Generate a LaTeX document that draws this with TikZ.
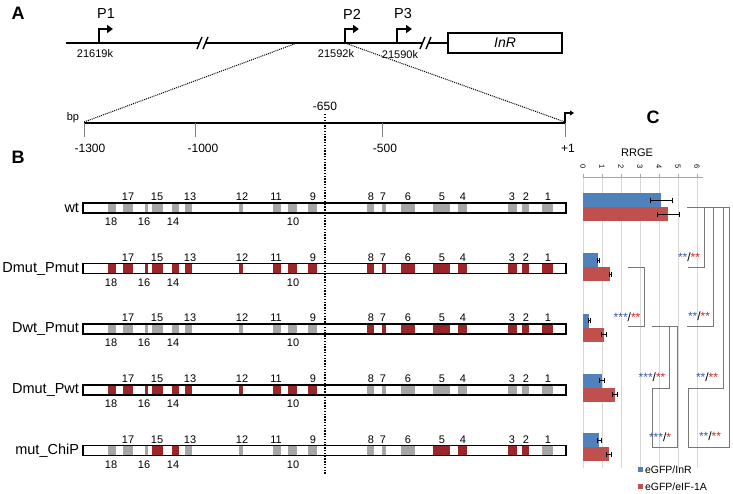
\documentclass[tikz,border=0pt]{standalone}
\usepackage{fontspec}
\setmainfont{Liberation Sans}
\usetikzlibrary{arrows.meta}
\definecolor{segred}{RGB}{155,38,42}
\definecolor{seggray}{RGB}{166,166,166}
\definecolor{barblue}{RGB}{79,129,189}
\definecolor{barred}{RGB}{192,80,77}
\definecolor{sigblue}{RGB}{60,90,160}
\definecolor{sigred}{RGB}{205,40,40}
\definecolor{gridgray}{RGB}{217,217,217}
\definecolor{brgray}{RGB}{120,120,120}
\newcommand\fs[1]{\fontsize{#1}{#1}\selectfont}
\def\distal{108/116,123/133,145/148,152/163,172/179,185/192,239/243,273/281,288/297,308/317}
\def\proximal{367/374,382/386,401/415,433/450,458/467,508/517,522/529,542/553}
\def\chipred{152/163,172/179,433/450,458/467,508/517,522/529}
\newcommand\segrow[3]{\foreach \a/\b in #2 {\fill[#3] (\a,#1-5) rectangle (\b,#1+5);}}
\newcommand\numlabels[1]{%
  \foreach \x/\t in {128/17,157/15,190/13,242/12,276/11,313/9,371/8,383/7,408/6,442/5,463/4,512/3,526/2,548/1}
    {\node[numlbl] at (\x,#1-11) {\t};}
  \foreach \x/\t in {111/18,144/16,173/14,293/10}
    {\node[numlbl] at (\x,#1+14) {\t};}}
\newcommand\barframe[2]{%
  \fill[white] (83,#1-5) rectangle (566,#1+5);
  \segrow{#1}{#2}{seggray}}
\newcommand\sigtxt[2]{\textcolor{sigblue}{#1}/\textcolor{sigred}{#2}}
\newcommand\rrgebar[5]{% center, vb, eb, vr, er
  \fill[barblue] (583,#1-14) rectangle (583+19*#2,#1);
  \fill[barred] (583,#1) rectangle (583+19*#4,#1+14);
  \draw[errbar] (583+19*#2-19*#3,#1-7) -- (583+19*#2+19*#3,#1-7);
  \draw[errbar] (583+19*#2-19*#3,#1-9.5) -- (583+19*#2-19*#3,#1-4.5);
  \draw[errbar] (583+19*#2+19*#3,#1-9.5) -- (583+19*#2+19*#3,#1-4.5);
  \draw[errbar] (583+19*#4-19*#5,#1+7) -- (583+19*#4+19*#5,#1+7);
  \draw[errbar] (583+19*#4-19*#5,#1+4.5) -- (583+19*#4-19*#5,#1+9.5);
  \draw[errbar] (583+19*#4+19*#5,#1+4.5) -- (583+19*#4+19*#5,#1+9.5);}
\begin{document}
\begin{tikzpicture}[x=1pt,y=-1pt,
  every node/.style={inner sep=0pt,outer sep=0pt},
  panel/.style={font=\fs{18}\bfseries},
  plabel/.style={font=\fs{14.5}},
  coordlbl/.style={font=\fs{11}},
  scalelbl/.style={font=\fs{12}},
  numlbl/.style={font=\fs{11}},
  rowlbl/.style={font=\fs{14.5},anchor=east},
  mainline/.style={line width=2.4pt},
  promarrow/.style={line width=2.2pt,-{Triangle[length=6pt,width=8pt]}},
  brk/.style={line width=1.4pt},
  zoomline/.style={line width=1pt,dash pattern=on 1pt off 1pt},
  tickline/.style={gray,line width=1pt},
  barbox/.style={draw=black,line width=1.3pt},
  bracket/.style={brgray,line width=0.9pt},
  errbar/.style={black,line width=0.7pt},
  sig/.style={font=\fs{12}},
  axisdigit/.style={font=\fs{7.5},rotate=-90},
  legtext/.style={font=\fs{10.5},anchor=west}]
\fill[white] (0,0) rectangle (733,493);
\useasboundingbox (0,0) rectangle (733,493);

% ---------- Panel A ----------
\node[panel] (labA) at (18,13) {A};
\draw[mainline] (66,43) -- (199,43);
\draw[mainline] (206,43) -- (422,43);
\draw[mainline] (429,43) -- (448,43);
\draw[brk] (197,49) -- (202,37);
\draw[brk] (203,49) -- (208,37);
\draw[brk] (420,49) -- (425,37);
\draw[brk] (426,49) -- (431,37);
\node[draw,line width=1.2pt,minimum width=114pt,minimum height=20pt,font=\fs{14}\itshape] (inr) at (505,43) {InR};

\draw[promarrow] (99,44) -- (99,29) -- (113,29);
\draw[promarrow] (345,44) -- (345,29) -- (359,29);
\draw[promarrow] (397,44) -- (397,29) -- (412,29);
\node[plabel] (p1) at (106,14) {P1};
\node[plabel] (p2) at (352,14) {P2};
\node[plabel] (p3) at (403,14) {P3};
\node[coordlbl] (c1) at (95,54) {21619k};
\node[coordlbl] (c2) at (336,54) {21592k};
\node[coordlbl] (c3) at (400,55) {21590k};

% zoom lines
\coordinate (zl) at (84,122);
\coordinate (zr) at (565,122);
\draw[zoomline] (297,43) -- (zl);
\draw[zoomline] (345,43) -- (zr);

% scale
\node[font=\fs{11}] (bp) at (73,118) {bp};
\draw[line width=1.3pt] (84,123) -- (565,123);
\foreach \x in {84,195,382,565} {\draw[tickline] (\x,123) -- (\x,137);}
\draw[line width=1.2pt,-{Triangle[length=4pt,width=5pt]}] (565,123) -- (565,113) -- (574,113);
\node[scalelbl] (s1) at (90,148) {-1300};
\node[scalelbl] (s2) at (203,148) {-1000};
\node[scalelbl] (s3) at (385,148) {-500};
\node[scalelbl] (s4) at (568,148) {+1};
\node[scalelbl] (s650) at (325,106) {-650};

% ---------- Panel B ----------
\node[panel] (labB) at (18,157) {B};

% wt
\barframe{208}{\distal}
\segrow{208}{\proximal}{seggray}
\draw[barbox] (83,203) rectangle (566,213);
\numlabels{208}
\node[rowlbl] (rwt) at (79,208) {wt};

% Dmut_Pmut
\barframe{268.5}{\distal}
\segrow{268.5}{\distal}{segred}
\segrow{268.5}{\proximal}{segred}
\draw[barbox] (83,263.5) rectangle (566,273.5);
\numlabels{268.5}
\node[rowlbl] (rdd) at (79,268.5) {Dmut\_Pmut};

% Dwt_Pmut
\barframe{329}{\distal}
\segrow{329}{\proximal}{segred}
\draw[barbox] (83,324) rectangle (566,334);
\numlabels{329}
\node[rowlbl] (rwp) at (79,329) {Dwt\_Pmut};

% Dmut_Pwt
\barframe{390}{\distal}
\segrow{390}{\distal}{segred}
\segrow{390}{\proximal}{seggray}
\draw[barbox] (83,385) rectangle (566,395);
\numlabels{390}
\node[rowlbl] (rmw) at (79,390) {Dmut\_Pwt};

% mut_ChiP
\barframe{450.5}{\distal}
\segrow{450.5}{\proximal}{seggray}
\segrow{450.5}{\chipred}{segred}
\draw[barbox] (83,445.5) rectangle (566,455.5);
\numlabels{450.5}
\node[rowlbl] (rchip) at (79,450.5) {mut\_ChiP};

% -650 dotted line
\draw[line width=1.6pt,dash pattern=on 1.4pt off 1.4pt] (325,114) -- (325,474);

% ---------- Panel C ----------
\node[panel] (labC) at (653,117) {C};
\node[font=\fs{11}] (rrge) at (637,153) {RRGE};
\foreach \v in {0,...,6} {
  \draw[gridgray,line width=0.8pt] (583+19*\v,177) -- (583+19*\v,468);
  \draw[gray!70,line width=0.8pt] (583+19*\v,174) -- (583+19*\v,177);
  \node[axisdigit] at (583+19*\v,167) {\v};
}
\draw[gray!70,line width=0.8pt] (583,177) -- (703,177);

\rrgebar{207}{4.13}{0.58}{4.47}{0.58}
\rrgebar{267}{0.80}{0.06}{1.42}{0.05}
\rrgebar{327.5}{0.33}{0.05}{1.10}{0.12}
\rrgebar{387.5}{1.00}{0.12}{1.68}{0.15}
\rrgebar{447}{0.85}{0.10}{1.37}{0.12}

% significance brackets (right group: vs wt)
\draw[bracket] (687,207) -- (729,207);
\draw[bracket] (704,207) -- (704,267) -- (688,267);
\draw[bracket] (713,207) -- (713,326) -- (687,326);
\draw[bracket] (723,207) -- (723,388) -- (688,388);
\draw[bracket] (729,207) -- (729,447) -- (688,447);
\draw[bracket] (688,388) -- (688,447);
% left group
\draw[bracket] (628,267) -- (644,267) -- (644,326) -- (628,326);
\draw[bracket] (652,326) -- (677,326);
\draw[bracket] (669,326) -- (669,388) -- (652,388);
\draw[bracket] (677,326) -- (677,447) -- (652,447);
\draw[bracket] (652,388) -- (652,447);

\node[sig] (g1) at (689,257) {\sigtxt{**}{**}};
\node[sig] (g2) at (699,316) {\sigtxt{**}{**}};
\node[sig] (g3) at (707,377) {\sigtxt{**}{**}};
\node[sig] (g4) at (710,436) {\sigtxt{**}{**}};
\node[sig] (g5) at (627,317) {\sigtxt{***}{**}};
\node[sig] (g6) at (652,377) {\sigtxt{***}{**}};
\node[sig] (g7) at (660,437) {\sigtxt{***}{*}};

% legend
\fill[barblue] (638,467) rectangle (643,472);
\node[legtext] (l1) at (645,469.5) {eGFP/InR};
\fill[barred] (638,484) rectangle (643,489);
\node[legtext] (l2) at (645,486.5) {eGFP/eIF-1A};
\end{tikzpicture}
\end{document}
